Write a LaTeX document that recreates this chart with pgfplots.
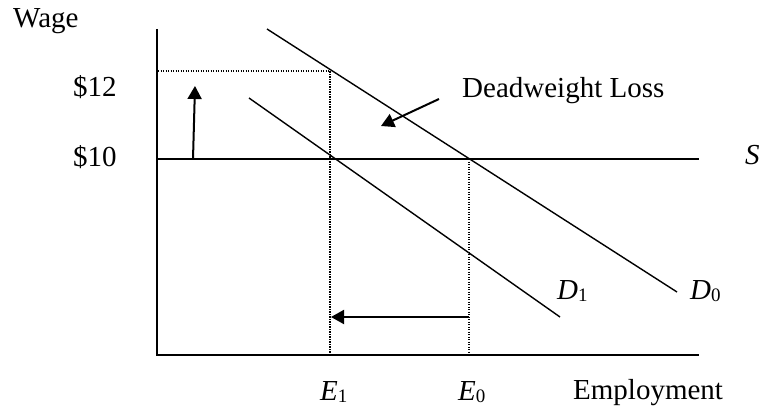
\documentclass[border=0pt]{standalone}
\usepackage{pgfplots}
\pgfplotsset{compat=1.18}
\usepackage{fontspec}
\setmainfont{Liberation Serif}
\usetikzlibrary{arrows.meta}
\newcommand\bigf{\fontsize{29bp}{34bp}\selectfont}
\newcommand\sub[1]{\raisebox{-2bp}{\fontsize{19bp}{19bp}\selectfont #1}}
\begin{document}
\begin{tikzpicture}
\begin{axis}[hide axis, scale only axis, width=761bp, height=408bp,
  xmin=0, xmax=761, ymin=0, ymax=408, y dir=reverse, clip=false]
% axes
\addplot[black, line width=2bp] coordinates {(157,29) (157,355) (699,355)};
% S line at $10
\addplot[black, line width=2bp] coordinates {(157,159) (699,159)};
% dotted guides
\addplot[black, line width=1.4bp, dash pattern=on 1.2bp off 1.3bp] coordinates {(158,71) (330,71) (330,355)};
\addplot[black, line width=1.4bp, dash pattern=on 1.2bp off 1.3bp] coordinates {(469,159) (469,355)};
% demand curves
\addplot[black, line width=1.4bp] coordinates {(267,29) (677,292)};
\addplot[black, line width=1.4bp] coordinates {(249,98) (560,317)};
% arrows
\addplot[black, line width=2bp, -{Triangle[length=13bp,width=14bp]}] coordinates {(193,159) (195,86)};
\addplot[black, line width=2bp, -{Triangle[length=13bp,width=14bp]}] coordinates {(469,317) (331,317)};
\addplot[black, line width=2bp, -{Triangle[length=13bp,width=14bp]}] coordinates {(439,99) (381,126)};
% labels
\node[anchor=base west, inner sep=0pt, font=\bigf] at (axis cs:13,28) {Wage};
\node[anchor=base west, inner sep=0pt, font=\bigf] at (axis cs:73,96) {\$12};
\node[anchor=base west, inner sep=0pt, font=\bigf] at (axis cs:73,166) {\$10};
\node[anchor=base west, inner sep=0pt, font=\bigf] at (axis cs:462,97) {Deadweight Loss};
\node[anchor=base west, inner sep=0pt, font=\bigf] at (axis cs:745,164) {\textit{S}};
\node[anchor=base west, inner sep=0pt, font=\bigf] at (axis cs:557,299) {\textit{D}\sub{1}};
\node[anchor=base west, inner sep=0pt, font=\bigf] at (axis cs:690,299) {\textit{D}\sub{0}};
\node[anchor=base west, inner sep=0pt, font=\bigf] at (axis cs:320,400) {\textit{E}\sub{1}};
\node[anchor=base west, inner sep=0pt, font=\bigf] at (axis cs:458,400) {\textit{E}\sub{0}};
\node[anchor=base west, inner sep=0pt, font=\bigf] at (axis cs:573,399) {Employment};
\end{axis}
\pgfresetboundingbox
\path[use as bounding box] (current axis.south west) rectangle (current axis.north east);
\end{tikzpicture}
\end{document}
